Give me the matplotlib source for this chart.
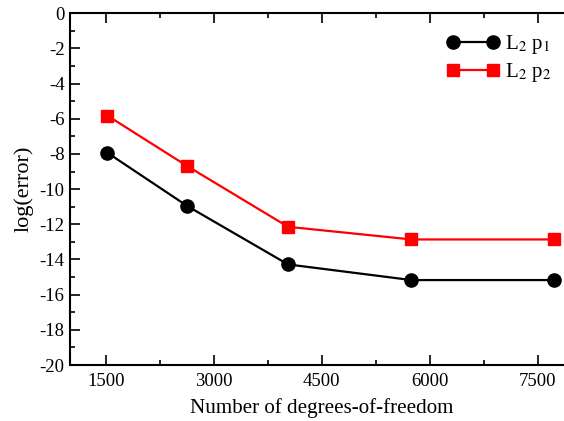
import matplotlib
matplotlib.use("Agg")
import matplotlib.pyplot as plt
from matplotlib.ticker import MultipleLocator

plt.rcParams['font.family'] = ['Liberation Serif', 'DejaVu Serif']
plt.rcParams['mathtext.fontset'] = 'stix'
plt.rcParams['axes.unicode_minus'] = False

# degrees of freedom and log(error) for the two runs
dof = [1520, 2630, 4030, 5745, 7720]
err_p1 = [-7.93, -10.96, -14.28, -15.17, -15.17]
err_p2 = [-5.82, -8.69, -12.14, -12.86, -12.86]

fig = plt.figure(figsize=(5.64, 4.21), dpi=100)
ax = fig.add_axes([0.1241, 0.133, 0.8931, 0.8354])

ax.plot(dof, err_p1, '-o', color='black', lw=1.6, ms=9.5, clip_on=False,
        label=r'L$_2$ p$_1$')
ax.plot(dof, err_p2, '-s', color='red', lw=1.6, ms=8.5, clip_on=False,
        label=r'L$_2$ p$_2$')

ax.set_xlim(1000, 8000)
ax.set_ylim(-20, 0)
ax.xaxis.set_major_locator(MultipleLocator(1500))
ax.xaxis.set_minor_locator(MultipleLocator(750))
ax.yaxis.set_major_locator(MultipleLocator(2))
ax.yaxis.set_minor_locator(MultipleLocator(1))
ax.tick_params(which='both', direction='in', top=True, right=True,
               labelsize=13.5, width=1.2)
ax.tick_params(which='major', length=7, pad=4)
ax.tick_params(axis='x', which='major', pad=6)
ax.tick_params(which='minor', length=3.5)
for s in ax.spines.values():
    s.set_linewidth(1.5)

ax.set_xlabel('Number of degrees-of-freedom', fontsize=15.1, labelpad=5.5)
ax.set_ylabel('log(error)', fontsize=16, labelpad=4)

ax.legend(loc='upper left', bbox_to_anchor=(0.712, 0.996), frameon=False,
          fontsize=15, numpoints=2, handlelength=2.5, labelspacing=0.27,
          handletextpad=0.3, borderpad=0.37)

fig.savefig('out.png', dpi=100)
